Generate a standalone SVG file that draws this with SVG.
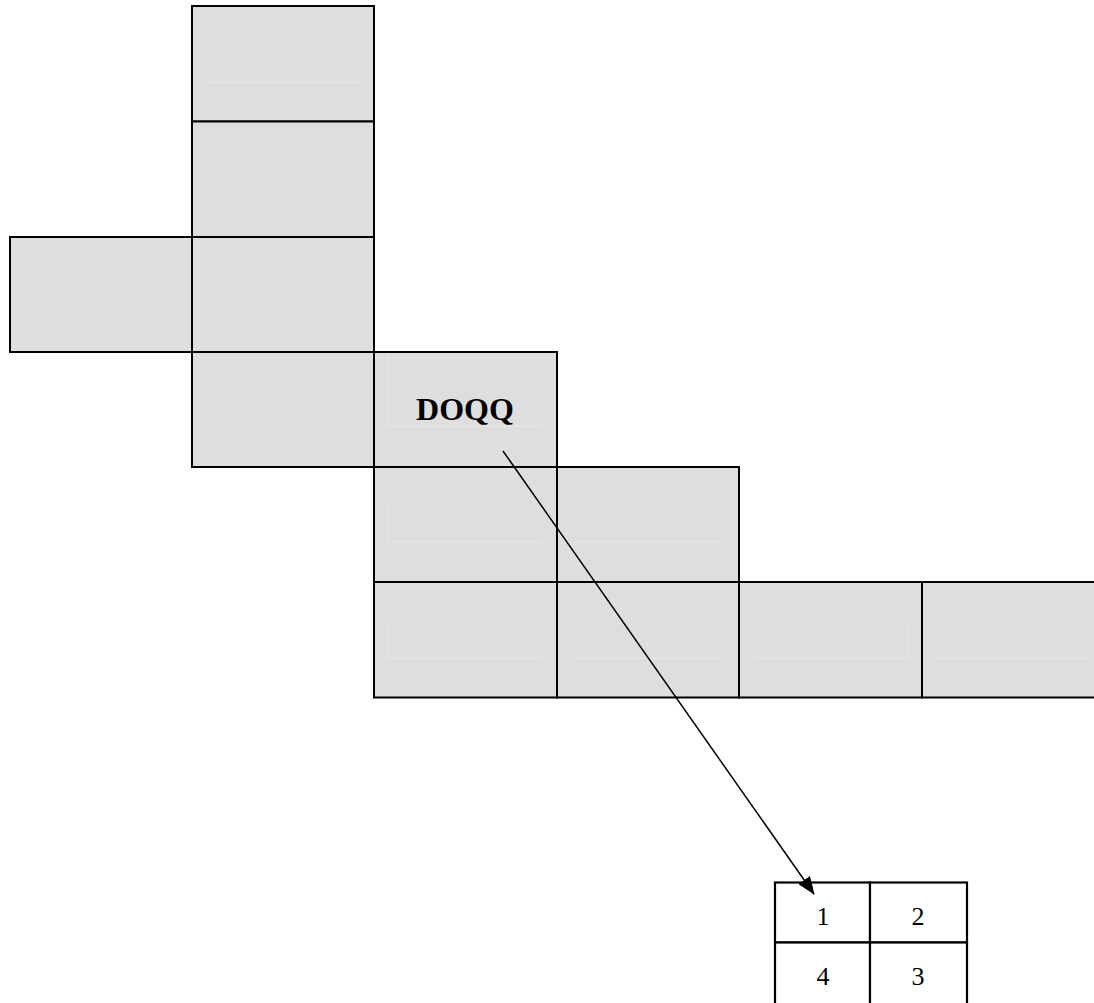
<svg xmlns="http://www.w3.org/2000/svg" width="1094" height="1003" viewBox="0 0 1094 1003">
  <style>
    .cell { fill: #dedede; stroke: #000; stroke-width: 2; }
    .tcell { fill: #fff; stroke: #000; stroke-width: 2.2; }
    .faint { fill: none; stroke: #e7e7e7; stroke-width: 1.2; }
    .lbl { font-family: "Liberation Serif", "Times New Roman", serif; font-weight: bold; font-size: 32px; fill: #000; }
    .num { font-family: "Liberation Serif", "Times New Roman", serif; font-size: 26px; fill: #000; text-anchor: middle; }
    .conn { stroke: #000; stroke-width: 1.5; fill: none; }
  </style>
  <defs>
    <marker id="arrow" markerUnits="userSpaceOnUse" markerWidth="18" markerHeight="14" refX="17" refY="7" orient="auto">
      <path d="M0,0 L18,7 L0,14 Z" fill="#000"/>
    </marker>
  </defs>
  <rect width="1094" height="1003" fill="#fff"/>

  <g id="cell-r0c1"><rect class="cell" x="192" y="6" width="182" height="115.5"/></g>
  <g id="cell-r1c1"><rect class="cell" x="192" y="121.5" width="182" height="115.5"/></g>
  <g id="cell-r2c0"><rect class="cell" x="10" y="237" width="182" height="115"/></g>
  <g id="cell-r2c1"><rect class="cell" x="192" y="237" width="182" height="115"/></g>
  <g id="cell-r3c1"><rect class="cell" x="192" y="352" width="182" height="115"/></g>
  <g id="cell-doqq"><rect class="cell" x="374" y="352" width="183" height="115"/>
    <text class="lbl" x="465" y="420" text-anchor="middle">DOQQ</text></g>
  <g id="cell-r4c2"><rect class="cell" x="374" y="467" width="183" height="115"/></g>
  <g id="cell-r4c3"><rect class="cell" x="557" y="467" width="182" height="115"/></g>
  <g id="cell-r5c2"><rect class="cell" x="374" y="582" width="183" height="115.5"/></g>
  <g id="cell-r5c3"><rect class="cell" x="557" y="582" width="182" height="115.5"/></g>
  <g id="cell-r5c4"><rect class="cell" x="739" y="582" width="183" height="115.5"/></g>
  <g id="cell-r5c5"><rect class="cell" x="922" y="582" width="176" height="115.5"/></g>

  <g id="faint-marks">
    <line class="faint" x1="206" y1="82" x2="360" y2="82"/>
    <line class="faint" x1="206" y1="160" x2="360" y2="160"/>
    <polyline class="faint" points="388,353 388,426 542,426"/>
    <polyline class="faint" points="388,506 388,542 542,542"/>
    <line class="faint" x1="571" y1="542" x2="725" y2="542"/>
    <polyline class="faint" points="388,622 388,658 542,658"/>
    <line class="faint" x1="571" y1="658" x2="725" y2="658"/>
    <polyline class="faint" points="753,658 908,658 908,622"/>
    <line class="faint" x1="936" y1="658" x2="1089" y2="658"/>
  </g>

  <g id="quad-table">
    <rect class="tcell" x="775" y="882.5" width="95" height="60"/>
    <rect class="tcell" x="870" y="882.5" width="97" height="60"/>
    <rect class="tcell" x="775" y="942.5" width="95" height="62"/>
    <rect class="tcell" x="870" y="942.5" width="97" height="62"/>
    <text class="num" x="823" y="925">1</text>
    <text class="num" x="918" y="925">2</text>
    <text class="num" x="823" y="985">4</text>
    <text class="num" x="918" y="985">3</text>
  </g>

  <g id="connectors">
    <line class="conn" x1="503" y1="451" x2="814" y2="894" marker-end="url(#arrow)"/>
  </g>
</svg>
